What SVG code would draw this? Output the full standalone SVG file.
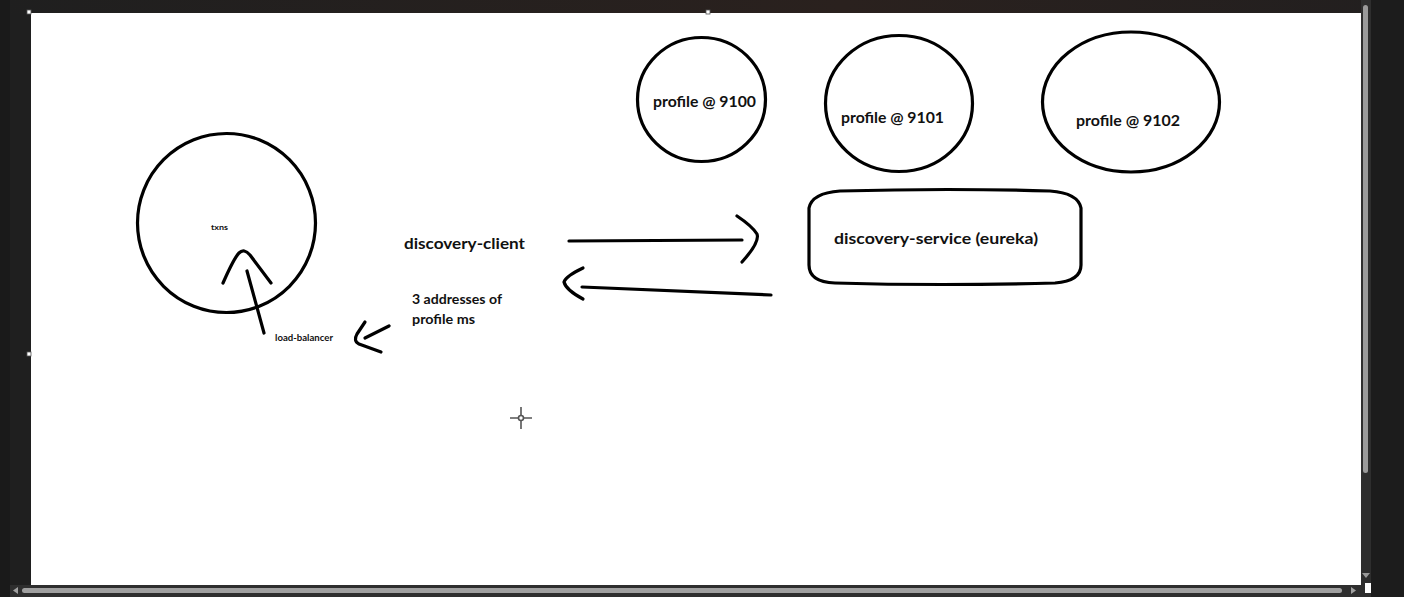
<svg xmlns="http://www.w3.org/2000/svg" width="1404" height="597" viewBox="0 0 1404 597">
<defs>
<linearGradient id="topg" x1="0" y1="0" x2="1" y2="0">
<stop offset="0" stop-color="#1f1f1f"/><stop offset="0.6" stop-color="#2a211e"/><stop offset="1" stop-color="#221f1f"/>
</linearGradient>
</defs>
<style>
.ink{fill:none;stroke:#000;stroke-width:3.2;stroke-linecap:round;stroke-linejoin:round}
.t{font-family:Lato,"Open Sans","Liberation Sans",sans-serif;font-weight:bold;fill:#111}
.h{fill:#fff;stroke:#555;stroke-width:0.8}
</style>
<rect x="0" y="0" width="1404" height="597" fill="#1f1f1f"/>
<rect x="0" y="0" width="1404" height="13" fill="url(#topg)"/>
<rect x="0" y="0" width="10" height="597" fill="#1a1a1a"/>
<rect x="31" y="13" width="1330" height="572" fill="#fff"/>
<rect x="1361" y="0" width="10" height="597" fill="#2e2e2e"/>
<rect x="1363" y="5" width="5" height="468" rx="2.5" fill="#9a9a9a"/>
<path d="M1362 573 l4 5 l4 -5z" fill="#9a9a9a"/>
<rect x="1371" y="0" width="33" height="597" fill="#1c1c1c"/>
<rect x="10" y="585" width="1361" height="12" fill="#2e2e2e"/>
<rect x="22" y="588" width="1320" height="5" rx="2.5" fill="#a0a0a0"/>
<path d="M18 587 l-5 3.5 l5 3.5z" fill="#a0a0a0"/>
<path d="M1351 587 l5 3.5 l-5 3.5z" fill="#a0a0a0"/>
<rect x="1365" y="583" width="6" height="10" fill="#fff"/>
<rect x="27" y="10" width="4" height="4" class="h"/>
<rect x="706" y="10" width="4" height="4" class="h"/>
<rect x="27" y="352" width="4" height="4" class="h"/>

<g id="profile-9100">
<ellipse cx="701.5" cy="99.5" rx="64" ry="62" class="ink"/>
<text x="653" y="107" class="t" font-size="15" textLength="103" lengthAdjust="spacingAndGlyphs">profile @ 9100</text>
</g>
<g id="profile-9101">
<ellipse cx="899" cy="103.5" rx="73.5" ry="68" class="ink"/>
<text x="841" y="123" class="t" font-size="15" textLength="103" lengthAdjust="spacingAndGlyphs">profile @ 9101</text>
</g>
<g id="profile-9102">
<ellipse cx="1131" cy="102" rx="88.5" ry="70" class="ink"/>
<text x="1076" y="126" class="t" font-size="15" textLength="104" lengthAdjust="spacingAndGlyphs">profile @ 9102</text>
</g>
<g id="discovery-service">
<path d="M840 191 Q950 188 1050 191 Q1078 193 1081 208 L1081 265 Q1081 281 1055 283 Q940 286 835 283 Q809 282 809 265 L809 208 Q812 193 840 191 Z" class="ink"/>
<text x="834" y="244" class="t" font-size="16" textLength="204" lengthAdjust="spacingAndGlyphs">discovery-service (eureka)</text>
</g>
<g id="txns">
<ellipse cx="226.5" cy="223" rx="89" ry="89.5" class="ink"/>
<text x="211" y="230" class="t" font-size="8" textLength="17" lengthAdjust="spacingAndGlyphs">txns</text>
</g>
<g id="discovery-client">
<text x="404" y="249" class="t" font-size="16" textLength="121" lengthAdjust="spacingAndGlyphs">discovery-client</text>
</g>
<g id="addresses-label">
<text x="412" y="304" class="t" font-size="13" textLength="90" lengthAdjust="spacingAndGlyphs">3 addresses of</text>
<text x="412" y="324" class="t" font-size="13" textLength="63" lengthAdjust="spacingAndGlyphs">profile ms</text>
</g>
<g id="load-balancer">
<text x="275" y="341" class="t" font-size="8.5" textLength="58" lengthAdjust="spacingAndGlyphs">load-balancer</text>
</g>

<g id="connectors">
<path d="M569 241 L742 240" class="ink"/>
<path d="M737 216 Q752 226 757 234 Q760 242 742 262" class="ink"/>
<path d="M582 287 L771 295" class="ink"/>
<path d="M583 268 Q566 276 564 282 Q566 290 583 299" class="ink"/>
<path d="M264 333 L247 271" class="ink"/>
<path d="M223 283 Q234 258 239 253 Q244 248 250 255 L271 283" class="ink"/>
<path d="M389 326 L365 338" class="ink"/>
<path d="M365 322 L357 334 Q353 341 359 344 L381 352" class="ink"/>
</g>

<g id="cursor" stroke="#555" stroke-width="1.6" fill="none">
<path d="M521 407 V415 M521 421 V429 M510 418 H518 M524 418 H532"/>
<circle cx="521" cy="418" r="2.5"/>
</g>
</svg>
